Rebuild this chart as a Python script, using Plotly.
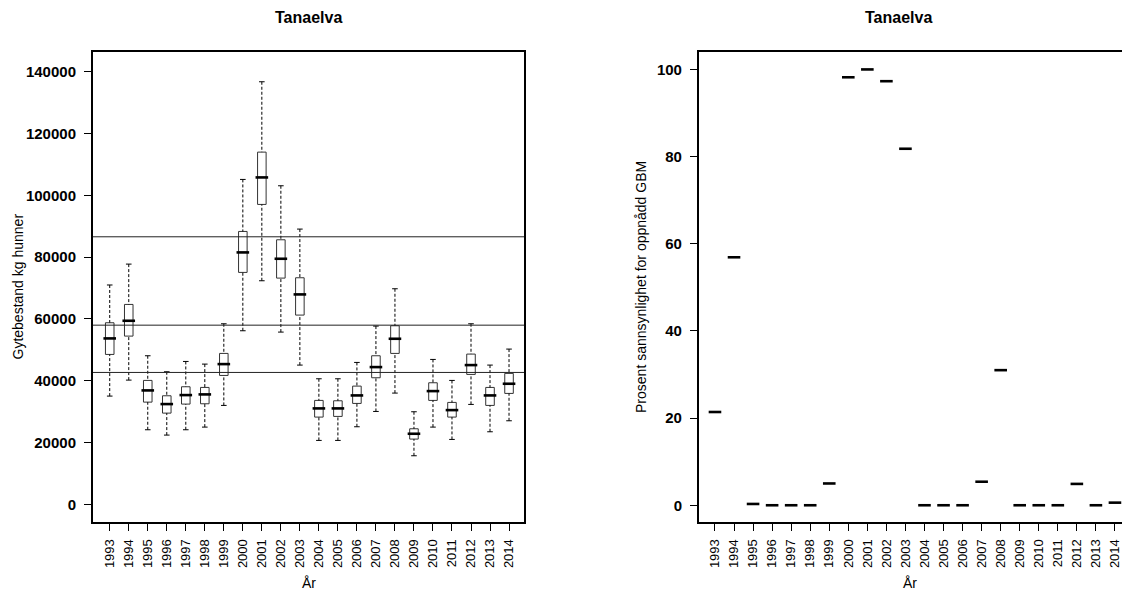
import plotly.graph_objects as go
from plotly.subplots import make_subplots

years = list(range(1993, 2015))
year_labels = [str(y) for y in years]

# Left panel: spawning stock (kg females) box statistics
whisk_low = [35050, 40220, 24150, 22430, 24150, 25010, 32030, 56190, 72370, 55760, 45080,
             20700, 20700, 25120, 30080, 36020, 15740, 25010, 21020, 32350, 23500, 27060]
q1 = [48530, 54460, 33100, 29540, 32460, 32560, 41730, 75070, 97070, 73230, 61260,
      28250, 28470, 32670, 40980, 48860, 21130, 33650, 28250, 42060, 32030, 35910]
median = [53710, 59420, 36880, 32460, 35370, 35590, 45400, 81540, 105810, 79490, 67950,
          31060, 31060, 35260, 44430, 53600, 22860, 36660, 30510, 45080, 35260, 39040]
q3 = [58780, 64710, 40120, 35150, 38070, 37850, 48860, 88330, 114000, 85630, 73340,
      33650, 33530, 38280, 48100, 57810, 24470, 39360, 33000, 48640, 37850, 42390]
whisk_high = [71000, 77760, 48100, 42920, 46260, 45400, 58450, 105160, 136770, 103110, 89090,
              40650, 40650, 45940, 57700, 69780, 29980, 46910, 40120, 58450, 45080, 50260]
ref_levels = [86600, 58000, 42700]

# Right panel: probability (%) of reaching the conservation limit
prob = [21.4, 56.9, 0.3, 0.0, 0.0, 0.0, 5.0, 98.2, 100.0, 97.3, 81.8,
        0.0, 0.0, 0.0, 5.4, 31.0, 0.0, 0.0, 0.0, 4.9, 0.0, 0.6]

left_ticks = list(range(0, 140001, 20000))
right_ticks = list(range(0, 101, 20))

FONT = "Liberation Sans, Arial, Helvetica, sans-serif"

fig = make_subplots(rows=1, cols=2, horizontal_spacing=0.0)

# whiskers (dashed)
wx, wy = [], []
for yr, lo, a, b, hi in zip(years, whisk_low, q1, q3, whisk_high):
    wx += [yr, yr, None, yr, yr, None]
    wy += [hi, b, None, lo, a, None]
fig.add_trace(go.Scatter(x=wx, y=wy, mode="lines",
                         line=dict(color="black", width=1, dash="3px,2px"),
                         hoverinfo="skip", showlegend=False), row=1, col=1)
# whisker caps
fig.add_trace(go.Scatter(x=years + years, y=whisk_high + whisk_low, mode="markers",
                         marker=dict(symbol="line-ew", size=4,
                                     line=dict(color="black", width=1)),
                         hoverinfo="skip", showlegend=False), row=1, col=1)
# boxes
fig.add_trace(go.Box(x=years, q1=q1, median=median, q3=q3,
                     lowerfence=q1, upperfence=q3, width=0.45,
                     whiskerwidth=0, fillcolor="white",
                     line=dict(color="#333333", width=1),
                     boxpoints=False, showlegend=False), row=1, col=1)
# thick medians
fig.add_trace(go.Scatter(x=years, y=median, mode="markers",
                         marker=dict(symbol="line-ew", size=9,
                                     line=dict(color="black", width=2.6)),
                         hoverinfo="skip", showlegend=False), row=1, col=1)

for v in ref_levels:
    fig.add_hline(y=v, line=dict(color="#222222", width=1), row=1, col=1)

fig.add_trace(go.Scatter(x=years, y=prob, mode="markers",
                         marker=dict(symbol="line-ew", size=9,
                                     line=dict(color="black", width=2.6)),
                         showlegend=False), row=1, col=2)

axis_common = dict(showgrid=False, zeroline=False, showline=True, linecolor="black",
                   ticks="outside", ticklen=7, tickwidth=1, tickcolor="black",
                   ticklabeloverflow="allow")

fig.update_xaxes(**axis_common, tickvals=years, ticktext=year_labels, tickangle=-90,
                 tickfont=dict(family=FONT, size=13, color="black"),
                 ticklabelstandoff=3)
fig.update_xaxes(domain=[0, 0.4189], range=[1992.12, 2014.79], mirror=True,
                 linewidth=2, row=1, col=1)
fig.update_xaxes(domain=[0.5889, 1.0], range=[1992.16, 2014.37], mirror=True,
                 linewidth=2, row=1, col=2)

fig.update_yaxes(**axis_common, tickfont=dict(family=FONT, size=15, color="black", weight="bold"),
                 ticklabelstandoff=5)
fig.update_yaxes(range=[-5700, 146400], tickvals=left_ticks,
                 ticktext=[str(t) for t in left_ticks], mirror=True, linewidth=2,
                 row=1, col=1)
fig.update_yaxes(range=[-3.84, 104], tickvals=right_ticks,
                 ticktext=[str(t) for t in right_ticks], mirror=False, linewidth=2,
                 row=1, col=2)

ann_font = dict(family=FONT, size=14, color="black")
for xd, yd, dx in (("x domain", "y domain", 0), ("x2 domain", "y2 domain", -12)):
    fig.add_annotation(text="<b>Tanaelva</b>", xref=xd, yref=yd, x=0.5, y=1,
                       xshift=dx, yshift=35, xanchor="center", yanchor="middle",
                       showarrow=False, font=dict(family=FONT, size=16, color="black"))
    fig.add_annotation(text="År", xref=xd, yref=yd, x=0.5, y=0, yshift=-61,
                       xanchor="center", yanchor="middle", showarrow=False, font=ann_font)
fig.add_annotation(text="Gytebestand kg hunner", xref="x domain", yref="y domain",
                   x=0, y=0.5, xshift=-75.5, textangle=-90, xanchor="center",
                   yanchor="middle", showarrow=False, font=ann_font)
fig.add_annotation(text="Prosent sannsynlighet for oppnådd GBM", xref="x2 domain",
                   yref="y2 domain", x=0, y=0.5, xshift=-58, textangle=-90,
                   xanchor="center", yanchor="middle", showarrow=False, font=ann_font)

fig.update_layout(width=1122, height=590, autosize=False,
                  margin=dict(l=93, r=0, t=52, b=68, autoexpand=False),
                  paper_bgcolor="white", plot_bgcolor="white",
                  font=dict(family=FONT, color="black"), showlegend=False)

fig.write_html("out.html", include_plotlyjs=True, config={"displayModeBar": False},
               post_script="document.body.style.margin='0';document.body.style.overflow='hidden';")
